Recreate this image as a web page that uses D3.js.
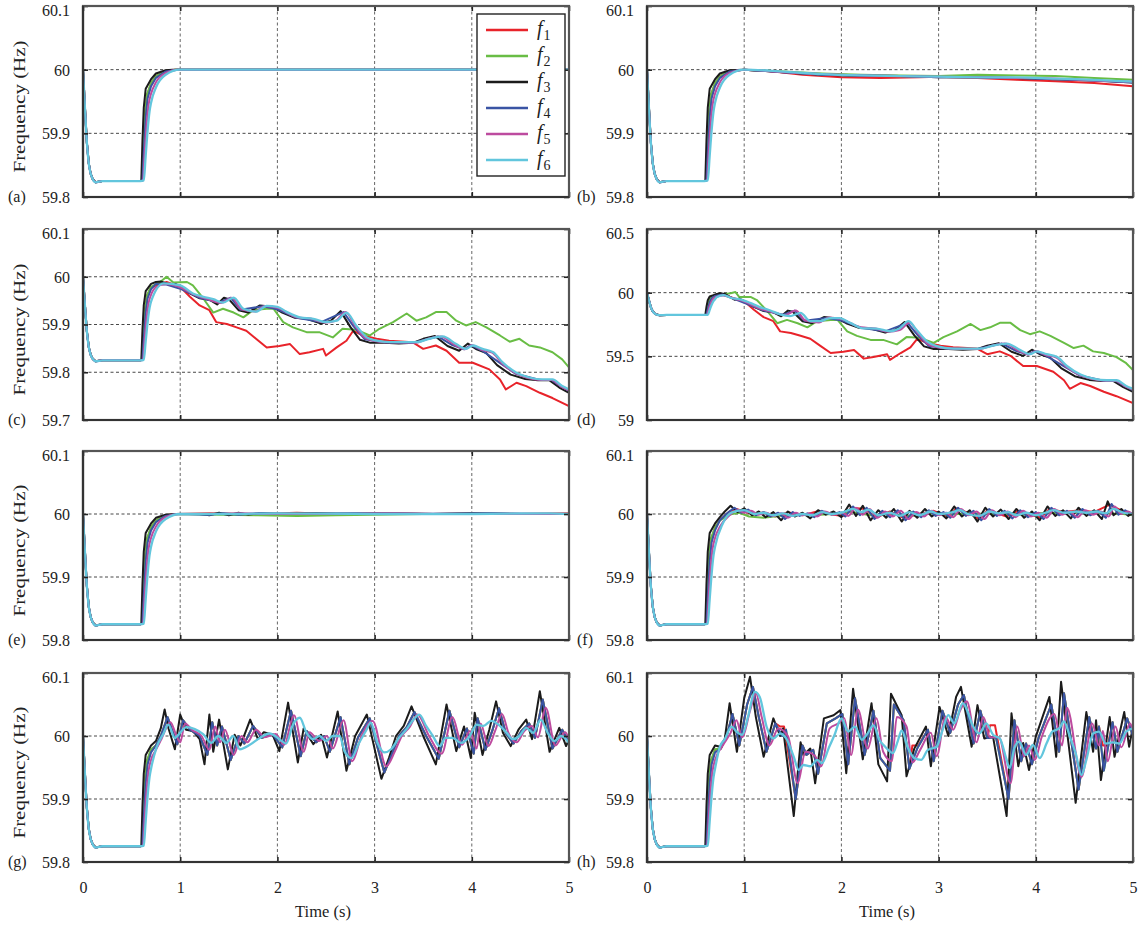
<!DOCTYPE html>
<html>
<head>
<meta charset="utf-8">
<script src="https://cdn.jsdelivr.net/npm/d3@7/dist/d3.min.js"></script>
<style>
body { margin: 0; background: #fff; }
</style>
</head>
<body>
<svg id="chart" width="1143" height="926"></svg>
<script>
// ---- data ----
const seriesIds = ["1", "2", "3", "4", "5", "6"];
const panelIds = ["a", "b", "c", "d", "e", "f", "g", "h"];
const xTicks = [0, 1, 2, 3, 4, 5];
const yTicksStd = [59.8, 59.9, 60, 60.1];
const yTicksC = [59.7, 59.8, 59.9, 60, 60.1];
const yTicksD = [59, 59.5, 60, 60.5];

// common initial dip, same in every panel
const dipPart = [[0,60],[0.02,59.94],[0.04,59.885],[0.06,59.852],[0.08,59.836],[0.1,59.828],[0.13,59.823],[0.2,59.825],[0.4,59.825],[0.59,59.825]];
// steep recovery around t = 0.6 s
const rise_f1 = [[0.61,59.826],[0.625,59.88],[0.64,59.93],[0.66,59.96],[0.7,59.978]];
const rise_f2 = [[0.61,59.826],[0.625,59.885],[0.64,59.935],[0.66,59.962],[0.7,59.979]];
const rise_f3 = [[0.6,59.826],[0.612,59.89],[0.625,59.94],[0.645,59.97],[0.7,59.985]];
const rise_f4 = [[0.612,59.826],[0.627,59.875],[0.645,59.925],[0.665,59.955],[0.7,59.974]];
const rise_f5 = [[0.618,59.826],[0.635,59.87],[0.655,59.915],[0.675,59.945],[0.7,59.962]];
const rise_f6 = [[0.625,59.826],[0.645,59.865],[0.665,59.905],[0.685,59.935],[0.7,59.948]];

// (a)
const a_f1 = [[0.75,59.99],[0.85,59.998],[0.95,60.0],[5,60.0]];
const a_f2 = [[0.75,59.99],[0.85,59.998],[0.95,60.0],[5,60.0]];
const a_f3 = [[0.75,59.994],[0.85,59.999],[0.92,60.0],[5,60.0]];
const a_f4 = [[0.75,59.987],[0.85,59.997],[0.97,60.0],[5,60.0]];
const a_f5 = [[0.75,59.98],[0.85,59.995],[0.98,60.0],[5,60.0]];
const a_f6 = [[0.75,59.972],[0.85,59.992],[1.0,60.0],[5,60.0]];

// (b)
const b_f1 = [[0.75,59.99],[0.85,59.998],[1.0,60.0],[1.3,59.997],[1.6,59.992],[2.0,59.988],[2.4,59.987],[2.8,59.988],[3.0,59.989],[3.4,59.987],[3.8,59.984],[4.2,59.982],[4.6,59.979],[5.0,59.974]];
const b_f2 = [[0.75,59.99],[0.85,59.998],[1.0,60.0],[1.4,59.997],[1.8,59.994],[2.2,59.992],[2.6,59.991],[3.0,59.99],[3.4,59.992],[3.8,59.991],[4.2,59.99],[4.6,59.987],[5.0,59.984]];
const b_f3 = [[0.75,59.994],[0.85,59.999],[1.0,60.0],[1.4,59.996],[1.8,59.992],[2.2,59.99],[2.6,59.99],[3.0,59.988],[3.4,59.988],[3.8,59.987],[4.2,59.985],[4.6,59.983],[5.0,59.98]];
const b_f4 = [[0.75,59.987],[0.85,59.997],[1.0,60.0],[1.4,59.996],[1.8,59.992],[2.2,59.991],[2.6,59.99],[3.0,59.988],[3.4,59.988],[3.8,59.987],[4.2,59.985],[4.6,59.983],[5.0,59.98]];
const b_f5 = [[0.75,59.98],[0.85,59.995],[1.0,60.0],[1.4,59.996],[1.8,59.993],[2.2,59.991],[2.6,59.99],[3.0,59.989],[3.4,59.988],[3.8,59.987],[4.2,59.986],[4.6,59.983],[5.0,59.981]];
const b_f6 = [[0.75,59.972],[0.85,59.992],[1.0,60.0],[1.4,59.997],[1.8,59.993],[2.2,59.991],[2.6,59.99],[3.0,59.989],[3.4,59.988],[3.8,59.988],[4.2,59.986],[4.6,59.984],[5.0,59.981]];

// (c)
const c_f1 = [[0.86,59.989],[1.0,59.979],[1.1,59.958],[1.2,59.94],[1.3,59.93],[1.37,59.905],[1.48,59.901],[1.58,59.894],[1.68,59.887],[1.78,59.87],[1.89,59.852],[2.02,59.855],[2.13,59.859],[2.23,59.838],[2.33,59.842],[2.47,59.849],[2.5,59.835],[2.61,59.852],[2.71,59.866],[2.78,59.887],[2.88,59.877],[3.02,59.87],[3.15,59.866],[3.39,59.863],[3.5,59.849],[3.63,59.856],[3.74,59.845],[3.87,59.82],[4.01,59.82],[4.18,59.806],[4.29,59.785],[4.35,59.764],[4.46,59.778],[4.56,59.771],[4.7,59.757],[4.83,59.746],[5.0,59.729]];
const c_f2 = [[0.8,59.99],[0.86,60.0],[0.93,59.988],[1.07,59.989],[1.13,59.982],[1.24,59.954],[1.34,59.925],[1.44,59.933],[1.55,59.925],[1.65,59.915],[1.75,59.93],[1.89,59.933],[1.96,59.933],[2.06,59.905],[2.16,59.894],[2.3,59.884],[2.43,59.884],[2.57,59.873],[2.67,59.891],[2.81,59.889],[2.95,59.877],[3.05,59.891],[3.19,59.905],[3.33,59.923],[3.43,59.908],[3.53,59.915],[3.63,59.926],[3.74,59.926],[3.84,59.908],[3.94,59.898],[4.04,59.905],[4.15,59.894],[4.29,59.877],[4.39,59.864],[4.49,59.87],[4.59,59.856],[4.7,59.852],[4.83,59.842],[4.93,59.827],[5.0,59.81]];
const c_f3 = [[0.75,59.989],[0.8,59.99],[0.9,59.983],[0.95,59.985],[1.0,59.98],[1.1,59.965],[1.2,59.955],[1.3,59.952],[1.38,59.942],[1.45,59.956],[1.5,59.953],[1.6,59.93],[1.7,59.925],[1.82,59.94],[1.95,59.937],[2.05,59.925],[2.18,59.914],[2.3,59.912],[2.45,59.902],[2.55,59.908],[2.65,59.928],[2.75,59.895],[2.85,59.868],[2.95,59.862],[3.1,59.862],[3.25,59.86],[3.4,59.862],[3.5,59.87],[3.62,59.876],[3.75,59.855],[3.87,59.845],[3.96,59.86],[4.05,59.848],[4.15,59.84],[4.26,59.815],[4.4,59.795],[4.55,59.786],[4.68,59.783],[4.8,59.783],[4.9,59.768],[5.0,59.757]];
const c_f4 = [[0.75,59.985],[0.85,59.984],[1.0,59.975],[1.2,59.956],[1.4,59.946],[1.52,59.956],[1.62,59.931],[1.85,59.938],[2.0,59.932],[2.2,59.914],[2.45,59.905],[2.68,59.926],[2.78,59.897],[2.9,59.869],[3.1,59.863],[3.4,59.862],[3.65,59.875],[3.8,59.857],[3.92,59.848],[3.99,59.857],[4.1,59.846],[4.3,59.818],[4.45,59.797],[4.7,59.784],[4.82,59.784],[4.92,59.77],[5.0,59.761]];
const c_f5 = [[0.75,59.978],[0.85,59.985],[1.0,59.978],[1.15,59.962],[1.3,59.952],[1.42,59.945],[1.53,59.956],[1.63,59.932],[1.77,59.927],[1.87,59.939],[2.0,59.935],[2.2,59.915],[2.35,59.912],[2.48,59.904],[2.6,59.908],[2.7,59.926],[2.8,59.897],[2.91,59.871],[3.1,59.863],[3.42,59.862],[3.55,59.87],[3.68,59.875],[3.82,59.858],[3.93,59.848],[4.0,59.857],[4.1,59.847],[4.21,59.841],[4.31,59.819],[4.45,59.798],[4.58,59.788],[4.72,59.784],[4.82,59.784],[4.92,59.77],[5.0,59.762]];
const c_f6 = [[0.83,59.986],[1.0,59.982],[1.13,59.965],[1.24,59.958],[1.34,59.953],[1.44,59.946],[1.55,59.956],[1.65,59.933],[1.78,59.927],[1.89,59.939],[2.0,59.937],[2.09,59.927],[2.23,59.915],[2.37,59.912],[2.5,59.905],[2.61,59.908],[2.71,59.925],[2.81,59.898],[2.92,59.873],[3.02,59.866],[3.15,59.863],[3.29,59.863],[3.43,59.863],[3.56,59.87],[3.7,59.875],[3.84,59.859],[3.94,59.849],[4.01,59.856],[4.11,59.849],[4.22,59.842],[4.32,59.82],[4.46,59.799],[4.59,59.789],[4.73,59.785],[4.83,59.785],[4.93,59.771],[5.0,59.764]];

// (d)
const d_f1 = [[0.8,59.985],[0.86,59.965],[1.0,59.933],[1.1,59.866],[1.2,59.808],[1.3,59.776],[1.37,59.696],[1.48,59.683],[1.58,59.661],[1.68,59.638],[1.78,59.584],[1.89,59.526],[2.02,59.536],[2.13,59.549],[2.23,59.482],[2.33,59.494],[2.47,59.517],[2.5,59.472],[2.61,59.526],[2.71,59.571],[2.78,59.638],[2.88,59.606],[3.02,59.584],[3.15,59.571],[3.39,59.562],[3.5,59.517],[3.63,59.539],[3.74,59.504],[3.87,59.424],[4.01,59.424],[4.18,59.379],[4.29,59.312],[4.35,59.245],[4.46,59.29],[4.56,59.267],[4.7,59.222],[4.83,59.187],[5.0,59.133]];
const d_f2 = [[0.75,59.99],[0.8,59.99],[0.86,59.995],[0.91,60.005],[0.95,59.965],[1.07,59.965],[1.13,59.942],[1.24,59.853],[1.34,59.76],[1.44,59.786],[1.55,59.76],[1.65,59.728],[1.75,59.776],[1.89,59.786],[1.96,59.786],[2.06,59.696],[2.16,59.661],[2.3,59.629],[2.43,59.629],[2.57,59.594],[2.67,59.651],[2.81,59.645],[2.95,59.606],[3.05,59.651],[3.19,59.696],[3.33,59.754],[3.43,59.706],[3.53,59.728],[3.63,59.763],[3.74,59.763],[3.84,59.706],[3.94,59.674],[4.04,59.696],[4.15,59.661],[4.29,59.606],[4.39,59.565],[4.49,59.584],[4.59,59.539],[4.7,59.526],[4.83,59.494],[4.93,59.446],[5.0,59.392]];
const d_f3 = [[0.75,59.995],[0.8,59.99],[0.9,59.945],[0.95,59.952],[1.0,59.936],[1.1,59.888],[1.2,59.856],[1.3,59.846],[1.38,59.814],[1.45,59.859],[1.5,59.85],[1.6,59.776],[1.7,59.76],[1.82,59.808],[1.95,59.798],[2.05,59.76],[2.18,59.725],[2.3,59.718],[2.45,59.686],[2.55,59.706],[2.65,59.77],[2.75,59.664],[2.85,59.578],[2.95,59.558],[3.1,59.558],[3.25,59.552],[3.4,59.558],[3.5,59.584],[3.62,59.603],[3.75,59.536],[3.87,59.504],[3.96,59.552],[4.05,59.514],[4.15,59.488],[4.26,59.408],[4.4,59.344],[4.55,59.315],[4.68,59.306],[4.8,59.306],[4.9,59.258],[5.0,59.222]];
const d_f4 = [[0.78,59.985],[0.9,59.95],[1.0,59.92],[1.2,59.859],[1.4,59.827],[1.52,59.859],[1.62,59.779],[1.85,59.802],[2.0,59.782],[2.2,59.725],[2.45,59.696],[2.68,59.763],[2.78,59.67],[2.9,59.581],[3.1,59.562],[3.4,59.558],[3.65,59.6],[3.8,59.542],[3.92,59.514],[3.99,59.542],[4.1,59.507],[4.3,59.418],[4.45,59.35],[4.7,59.309],[4.82,59.309],[4.92,59.264],[5.0,59.235]];
const d_f5 = [[0.78,59.978],[0.9,59.952],[1.0,59.93],[1.15,59.878],[1.3,59.846],[1.42,59.824],[1.53,59.859],[1.63,59.782],[1.77,59.766],[1.87,59.805],[2.0,59.792],[2.2,59.728],[2.35,59.718],[2.48,59.693],[2.6,59.706],[2.7,59.763],[2.8,59.67],[2.91,59.587],[3.1,59.562],[3.42,59.558],[3.55,59.584],[3.68,59.6],[3.82,59.546],[3.93,59.514],[4.0,59.542],[4.1,59.51],[4.21,59.491],[4.31,59.421],[4.45,59.354],[4.58,59.322],[4.72,59.309],[4.82,59.309],[4.92,59.264],[5.0,59.238]];
const d_f6 = [[0.72,59.966],[0.79,59.98],[0.86,59.96],[0.96,59.947],[1.06,59.92],[1.16,59.887],[1.27,59.86],[1.37,59.83],[1.47,59.816],[1.58,59.842],[1.68,59.776],[1.78,59.776],[1.88,59.8],[1.98,59.8],[2.09,59.763],[2.22,59.72],[2.36,59.718],[2.5,59.697],[2.6,59.72],[2.69,59.776],[2.77,59.71],[2.88,59.618],[2.98,59.58],[3.15,59.56],[3.29,59.56],[3.43,59.56],[3.56,59.584],[3.7,59.6],[3.84,59.549],[3.94,59.517],[4.01,59.539],[4.11,59.517],[4.22,59.494],[4.32,59.424],[4.46,59.357],[4.59,59.325],[4.73,59.312],[4.83,59.312],[4.93,59.267],[5.0,59.245]];

// (e)
const e_f1 = [[0.75,59.99],[0.85,59.998],[0.95,60.0],[1.3,60.001],[1.8,60.0],[2.2,60.002],[2.6,60.0],[3.0,60.001],[3.6,60.0],[4.0,60.001],[4.5,60.0],[5.0,60.001]];
const e_f2 = [[0.75,59.99],[0.85,59.998],[0.95,60.0],[1.4,59.999],[1.8,59.998],[2.2,59.997],[2.6,59.998],[3.0,59.999],[3.5,60.0],[4.0,60.0],[5.0,60.0]];
const e_f3 = [[0.75,59.994],[0.85,59.999],[0.95,60.0],[1.2,60.0],[1.3,59.998],[1.4,60.002],[1.5,59.998],[1.6,60.002],[1.7,59.999],[1.8,60.001],[2.0,60.0],[2.4,60.001],[2.8,60.0],[3.2,60.001],[3.6,60.0],[4.0,60.001],[4.4,60.0],[5.0,60.0]];
const e_f4 = [[0.75,59.987],[0.85,59.997],[0.97,60.0],[1.3,59.999],[1.45,60.001],[1.6,59.999],[1.8,60.001],[2.2,60.0],[2.8,60.001],[3.5,60.0],[4.2,60.001],[5.0,60.0]];
const e_f5 = [[0.75,59.98],[0.85,59.995],[0.98,60.0],[1.4,60.0],[1.6,60.001],[2.0,60.0],[2.6,60.0],[3.2,60.001],[4.0,60.0],[5.0,60.0]];
const e_f6 = [[0.75,59.972],[0.85,59.992],[1.0,60.0],[1.5,60.0],[2.0,60.001],[3.0,60.0],[4.0,60.0],[4.8,60.001],[5.0,60.0]];

// (f)
const f_f1 = [[0.75,59.99],[0.85,60.004],[0.92,60.008],[1.0,60.004],[1.1,59.999],[1.2,60.003],[1.32,59.996],[1.45,60.003],[1.6,59.998],[1.75,60.004],[1.9,59.999],[2.02,59.997],[2.1,60.01],[2.25,60.008],[2.35,59.994],[2.5,60.004],[2.64,59.994],[2.8,60.0],[2.95,60.005],[3.1,59.996],[3.18,60.009],[3.3,60.002],[3.42,59.992],[3.5,60.006],[3.7,59.996],[3.82,60.005],[4.05,59.994],[4.14,60.008],[4.3,60.003],[4.45,60.006],[4.6,60.003],[4.76,60.015],[4.9,60.004],[5.0,60.0]];
const f_f2 = [[0.75,59.99],[0.85,59.999],[0.95,60.002],[1.05,59.996],[1.2,59.994],[1.35,59.997],[1.5,59.999],[1.7,59.998],[1.9,60.0],[2.1,60.003],[2.3,59.998],[2.5,60.0],[2.7,59.997],[2.9,60.001],[3.1,59.999],[3.3,60.001],[3.5,60.0],[3.7,60.0],[3.9,59.999],[4.1,60.002],[4.3,60.001],[4.5,60.003],[4.7,60.001],[4.9,60.0],[5.0,59.998]];
const f_f3 = [[0.75,59.995],[0.8,60.004],[0.86,60.013],[0.93,60.003],[1.0,60.009],[1.08,59.998],[1.15,60.004],[1.22,59.995],[1.3,60.003],[1.38,59.99],[1.45,60.004],[1.52,59.996],[1.6,60.002],[1.68,59.993],[1.76,60.006],[1.84,59.999],[1.92,60.004],[2.0,59.995],[2.08,60.015],[2.15,59.997],[2.22,60.013],[2.3,59.99],[2.38,60.006],[2.46,59.994],[2.54,60.008],[2.62,59.988],[2.7,60.005],[2.78,59.994],[2.86,60.008],[2.93,59.996],[3.0,60.004],[3.08,59.993],[3.16,60.012],[3.24,59.996],[3.32,60.006],[3.4,59.988],[3.48,60.01],[3.56,59.996],[3.64,60.007],[3.72,59.992],[3.8,60.008],[3.88,59.994],[3.96,60.004],[4.04,59.99],[4.12,60.012],[4.2,59.997],[4.28,60.006],[4.36,59.993],[4.44,60.01],[4.52,59.997],[4.6,60.006],[4.68,59.992],[4.74,60.02],[4.8,59.998],[4.88,60.008],[4.95,59.997],[5.0,60.002]];
const f_f4 = [[0.75,59.99],[0.83,60.002],[0.9,60.01],[0.97,60.002],[1.04,60.007],[1.12,59.998],[1.2,60.003],[1.27,59.996],[1.35,60.002],[1.42,59.992],[1.5,60.003],[1.57,59.997],[1.65,60.001],[1.72,59.995],[1.8,60.005],[1.9,59.999],[1.98,60.003],[2.04,59.996],[2.12,60.012],[2.19,59.998],[2.26,60.01],[2.34,59.992],[2.42,60.005],[2.5,59.995],[2.58,60.006],[2.66,59.99],[2.74,60.004],[2.82,59.995],[2.9,60.006],[2.97,59.997],[3.05,60.003],[3.12,59.994],[3.2,60.01],[3.28,59.997],[3.36,60.005],[3.44,59.99],[3.52,60.008],[3.6,59.997],[3.68,60.005],[3.76,59.993],[3.84,60.006],[3.92,59.995],[4.0,60.003],[4.08,59.992],[4.16,60.01],[4.24,59.998],[4.32,60.005],[4.4,59.994],[4.48,60.008],[4.56,59.998],[4.64,60.005],[4.72,59.994],[4.78,60.016],[4.85,59.999],[4.92,60.006],[5.0,59.998]];
const f_f5 = [[0.75,59.98],[0.85,59.998],[0.93,60.006],[1.0,60.002],[1.07,60.005],[1.15,59.999],[1.23,60.002],[1.3,59.997],[1.38,60.001],[1.45,59.994],[1.53,60.002],[1.6,59.998],[1.68,60.001],[1.75,59.996],[1.83,60.004],[1.93,59.999],[2.01,60.002],[2.07,59.997],[2.15,60.01],[2.22,59.999],[2.29,60.008],[2.37,59.994],[2.45,60.004],[2.53,59.996],[2.61,60.005],[2.69,59.992],[2.77,60.003],[2.85,59.996],[2.93,60.005],[3.0,59.998],[3.08,60.002],[3.15,59.995],[3.23,60.008],[3.31,59.998],[3.39,60.004],[3.47,59.992],[3.55,60.006],[3.63,59.998],[3.71,60.004],[3.79,59.995],[3.87,60.005],[3.95,59.996],[4.03,60.002],[4.11,59.994],[4.19,60.008],[4.27,59.999],[4.35,60.004],[4.43,59.995],[4.51,60.006],[4.59,59.999],[4.67,60.004],[4.75,59.996],[4.81,60.012],[4.88,60.0],[4.95,60.004],[5.0,59.999]];
const f_f6 = [[0.78,59.985],[0.88,60.003],[1.0,60.006],[1.1,60.0],[1.2,60.002],[1.3,59.998],[1.4,60.001],[1.5,59.997],[1.6,60.0],[1.7,59.998],[1.8,60.003],[1.9,60.0],[2.0,60.002],[2.12,60.008],[2.2,60.003],[2.28,60.007],[2.38,59.998],[2.5,60.002],[2.6,59.997],[2.7,60.003],[2.8,59.998],[2.92,60.004],[3.0,60.0],[3.12,60.002],[3.22,60.006],[3.3,60.0],[3.42,59.997],[3.52,60.004],[3.62,60.001],[3.72,60.003],[3.8,59.998],[3.9,60.002],[4.0,59.998],[4.1,60.002],[4.18,60.006],[4.3,60.002],[4.42,60.004],[4.52,60.002],[4.62,60.004],[4.72,60.001],[4.8,60.008],[4.9,60.002],[5.0,60.0]];

// (g)
const g_f3 = [[0.75,59.992],[0.8,60.012],[0.84,60.042],[0.88,60.012],[0.945,59.979],[1.0,60.034],[1.06,60.01],[1.13,60.008],[1.2,59.995],[1.25,59.955],[1.3,60.034],[1.34,59.975],[1.4,60.026],[1.49,59.947],[1.56,60.002],[1.62,59.985],[1.72,60.026],[1.8,59.995],[1.86,60.006],[1.95,60.002],[2.02,59.976],[2.11,60.053],[2.21,59.958],[2.27,60.012],[2.37,59.987],[2.45,60.002],[2.51,59.966],[2.62,60.039],[2.71,59.945],[2.8,60.0],[2.92,60.034],[3.07,59.932],[3.15,59.966],[3.22,60.0],[3.3,60.016],[3.38,60.047],[3.5,60.0],[3.63,59.955],[3.74,60.05],[3.84,59.976],[3.92,60.015],[3.99,59.965],[4.03,60.037],[4.11,59.97],[4.18,60.01],[4.25,60.055],[4.32,60.005],[4.4,59.984],[4.48,60.01],[4.56,60.026],[4.62,59.995],[4.7,60.071],[4.8,59.975],[4.9,60.013],[4.97,59.984],[5.0,59.995]];
const g_f4 = [[0.75,59.985],[0.8,60.0],[0.87,60.03],[0.92,60.008],[0.97,59.987],[1.03,60.025],[1.1,60.01],[1.2,60.0],[1.28,59.97],[1.33,60.022],[1.38,59.985],[1.43,60.015],[1.52,59.962],[1.6,60.0],[1.66,59.988],[1.75,60.016],[1.84,59.997],[1.95,60.003],[2.05,59.982],[2.14,60.04],[2.24,59.968],[2.3,60.008],[2.4,59.99],[2.48,60.0],[2.54,59.975],[2.65,60.03],[2.74,59.955],[2.83,59.998],[2.95,60.028],[3.1,59.942],[3.18,59.972],[3.25,60.0],[3.33,60.014],[3.41,60.038],[3.53,60.0],[3.66,59.964],[3.77,60.04],[3.87,59.982],[3.95,60.012],[4.02,59.972],[4.06,60.028],[4.14,59.978],[4.21,60.008],[4.28,60.044],[4.35,60.004],[4.43,59.988],[4.51,60.008],[4.59,60.02],[4.65,59.997],[4.73,60.058],[4.83,59.98],[4.93,60.01],[5.0,59.99]];
// f1 and f2 lie under f4 over the whole window in (g)
const g_f1 = g_f4;
const g_f2 = g_f4;
const g_f5 = [[0.75,59.978],[0.8,59.993],[0.9,60.022],[0.95,60.005],[1.0,59.99],[1.05,60.02],[1.12,60.01],[1.22,60.0],[1.3,59.978],[1.36,60.015],[1.41,59.99],[1.46,60.01],[1.55,59.97],[1.63,60.0],[1.69,59.99],[1.78,60.01],[1.87,59.998],[1.98,60.003],[2.07,59.986],[2.17,60.033],[2.27,59.975],[2.33,60.006],[2.43,59.992],[2.51,60.0],[2.57,59.98],[2.68,60.025],[2.77,59.96],[2.86,59.998],[2.98,60.024],[3.12,59.952],[3.21,59.976],[3.28,60.0],[3.36,60.014],[3.44,60.034],[3.56,60.0],[3.69,59.972],[3.8,60.03],[3.9,59.986],[3.98,60.008],[4.05,59.98],[4.09,60.02],[4.17,59.984],[4.24,60.008],[4.31,60.035],[4.38,60.004],[4.46,59.99],[4.54,60.008],[4.62,60.016],[4.68,59.998],[4.76,60.045],[4.86,59.985],[4.96,60.006],[5.0,59.995]];
const g_f6 = [[0.757,59.982],[0.825,60.003],[0.877,60.018],[0.945,59.997],[0.997,60.005],[1.065,60.014],[1.15,60.011],[1.236,60.003],[1.32,59.989],[1.39,60.0],[1.476,59.989],[1.545,60.0],[1.613,59.979],[1.716,59.986],[1.818,59.997],[1.92,60.004],[2.02,59.995],[2.09,59.988],[2.16,60.018],[2.23,60.029],[2.3,60.005],[2.366,59.995],[2.434,60.0],[2.5,59.992],[2.57,60.0],[2.64,60.0],[2.69,59.976],[2.76,59.965],[2.84,59.989],[2.91,60.008],[2.96,60.021],[3.03,59.989],[3.1,59.974],[3.17,59.979],[3.25,59.997],[3.34,60.013],[3.39,60.024],[3.46,60.034],[3.53,60.016],[3.6,60.0],[3.67,59.984],[3.73,59.997],[3.8,59.997],[3.89,59.989],[3.98,60.0],[4.05,60.018],[4.12,60.016],[4.2,60.024],[4.29,60.016],[4.36,60.005],[4.42,59.995],[4.49,60.0],[4.56,60.013],[4.63,60.005],[4.71,60.026],[4.78,60.005],[4.85,59.992],[4.92,60.0],[5.0,59.989]];

// (h)
const h_f1 = [[0.76,59.98],[0.82,60.0],[0.88,60.035],[0.95,59.985],[1.03,60.05],[1.09,60.078],[1.15,60.03],[1.23,59.975],[1.32,60.02],[1.37,60.015],[1.41,60.015],[1.53,59.9],[1.6,59.985],[1.64,59.97],[1.71,59.978],[1.76,59.94],[1.85,60.02],[1.94,60.028],[2.01,60.035],[2.07,59.955],[2.14,60.06],[2.24,59.97],[2.33,60.04],[2.4,59.965],[2.5,59.945],[2.54,60.05],[2.64,60.025],[2.7,59.948],[2.73,59.985],[2.79,59.985],[2.89,60.01],[2.95,59.96],[3.04,60.04],[3.12,60.005],[3.2,60.05],[3.26,60.065],[3.36,59.988],[3.43,60.04],[3.5,59.997],[3.53,60.017],[3.58,60.017],[3.72,59.9],[3.78,60.025],[3.85,59.96],[3.9,59.988],[3.96,59.955],[4.03,59.998],[4.16,60.05],[4.24,59.975],[4.29,60.068],[4.44,59.915],[4.55,60.03],[4.62,59.98],[4.65,60.015],[4.69,59.985],[4.74,59.985],[4.79,60.022],[4.84,59.975],[4.94,60.028],[5.0,60.0]];
const h_f3 = [[0.75,59.983],[0.8,59.995],[0.85,60.052],[0.925,59.975],[1.0,60.06],[1.06,60.094],[1.12,60.03],[1.2,59.967],[1.3,60.028],[1.37,60.0],[1.4,60.012],[1.51,59.873],[1.58,59.99],[1.61,59.97],[1.68,59.98],[1.73,59.925],[1.82,60.028],[1.92,60.033],[1.99,60.041],[2.05,59.941],[2.12,60.075],[2.22,59.963],[2.31,60.052],[2.38,59.955],[2.47,59.928],[2.51,60.067],[2.62,60.033],[2.67,59.936],[2.75,59.98],[2.87,60.015],[2.92,59.952],[3.01,60.046],[3.1,60.0],[3.18,60.062],[3.23,60.078],[3.34,59.983],[3.4,60.049],[3.47,59.996],[3.56,59.999],[3.7,59.873],[3.75,60.036],[3.82,59.952],[3.87,59.989],[3.93,59.946],[4.0,59.999],[4.14,60.062],[4.21,59.967],[4.26,60.086],[4.41,59.894],[4.52,60.038],[4.59,59.975],[4.62,60.025],[4.67,59.93],[4.76,60.03],[4.81,59.967],[4.91,60.038],[4.96,59.983],[5.0,60.015]];
const h_f4 = [[0.76,59.98],[0.82,60.0],[0.88,60.035],[0.95,59.985],[1.03,60.05],[1.09,60.078],[1.15,60.03],[1.23,59.975],[1.32,60.02],[1.39,60.0],[1.43,60.01],[1.53,59.9],[1.6,59.985],[1.64,59.97],[1.71,59.978],[1.76,59.94],[1.85,60.02],[1.94,60.028],[2.01,60.035],[2.07,59.955],[2.14,60.06],[2.24,59.97],[2.33,60.04],[2.4,59.965],[2.5,59.945],[2.54,60.05],[2.64,60.025],[2.7,59.948],[2.78,59.98],[2.89,60.01],[2.95,59.96],[3.04,60.04],[3.12,60.005],[3.2,60.05],[3.26,60.065],[3.36,59.988],[3.43,60.04],[3.5,59.997],[3.59,59.998],[3.72,59.9],[3.78,60.025],[3.85,59.96],[3.9,59.988],[3.96,59.955],[4.03,59.998],[4.16,60.05],[4.24,59.975],[4.29,60.068],[4.44,59.915],[4.55,60.03],[4.62,59.98],[4.65,60.015],[4.7,59.945],[4.79,60.022],[4.84,59.975],[4.94,60.028],[5.0,60.0]];
// f2 lies under f4 in (h)
const h_f2 = h_f4;
const h_f5 = [[0.78,59.985],[0.86,60.005],[0.92,60.025],[0.98,59.998],[1.06,60.04],[1.12,60.068],[1.18,60.03],[1.26,59.985],[1.35,60.012],[1.45,60.0],[1.55,59.925],[1.63,59.975],[1.73,59.968],[1.79,59.952],[1.88,60.012],[1.97,60.02],[2.03,60.028],[2.1,59.97],[2.17,60.042],[2.27,59.98],[2.36,60.028],[2.43,59.975],[2.52,59.96],[2.57,60.03],[2.67,60.015],[2.73,59.958],[2.81,59.978],[2.92,60.005],[2.98,59.968],[3.07,60.03],[3.15,60.01],[3.22,60.04],[3.29,60.055],[3.39,59.99],[3.46,60.03],[3.53,59.998],[3.62,59.998],[3.74,59.925],[3.81,60.015],[3.88,59.968],[3.93,59.985],[3.99,59.962],[4.06,59.998],[4.19,60.035],[4.27,59.985],[4.32,60.045],[4.47,59.935],[4.58,60.02],[4.65,59.985],[4.69,60.008],[4.74,59.96],[4.82,60.015],[4.88,59.982],[4.97,60.02],[5.0,60.008]];
const h_f6 = [[0.75,59.983],[0.8,59.995],[0.87,60.015],[0.92,60.007],[0.98,60.002],[1.04,60.031],[1.11,60.07],[1.16,60.062],[1.23,60.015],[1.3,59.996],[1.37,60.004],[1.44,59.994],[1.51,59.967],[1.56,59.946],[1.61,59.954],[1.68,59.952],[1.75,59.962],[1.8,59.957],[1.87,59.981],[1.93,60.002],[2.0,60.028],[2.07,60.007],[2.14,60.015],[2.21,59.994],[2.26,60.002],[2.33,60.017],[2.39,59.994],[2.45,59.983],[2.53,59.973],[2.58,59.992],[2.62,60.009],[2.68,59.983],[2.75,59.965],[2.82,59.962],[2.89,59.978],[2.98,59.983],[3.04,60.009],[3.1,60.033],[3.16,60.02],[3.25,60.052],[3.3,60.038],[3.35,60.017],[3.42,60.004],[3.49,60.02],[3.56,60.002],[3.63,59.996],[3.7,59.962],[3.73,59.949],[3.78,59.981],[3.83,59.991],[3.9,59.97],[3.97,59.986],[4.04,59.965],[4.11,59.988],[4.17,60.007],[4.24,60.012],[4.29,60.023],[4.35,59.999],[4.41,59.973],[4.47,59.938],[4.52,59.962],[4.59,60.004],[4.65,60.007],[4.72,59.988],[4.79,59.99],[4.86,59.988],[4.93,60.007],[5.0,60.012]];

// ---- layout / style ----
const lineColors = ["#e8232a", "#69bd45", "#1b1b1b", "#3a54a4", "#bd4b9f", "#62c6dd"];
const serif = "'Liberation Serif', 'DejaVu Serif', 'Tinos', 'Noto Serif', 'FreeSerif', 'Times New Roman', serif";
const colX = [83, 647];
const plotW = 486;
const rowY = [6, 229, 451, 673];
const rowH = [191, 191, 189, 189];

const rises = [rise_f1, rise_f2, rise_f3, rise_f4, rise_f5, rise_f6];
const panels = [
    { tails: [a_f1, a_f2, a_f3, a_f4, a_f5, a_f6], dom: [59.8, 60.1], ticks: yTicksStd },
    { tails: [b_f1, b_f2, b_f3, b_f4, b_f5, b_f6], dom: [59.8, 60.1], ticks: yTicksStd },
    { tails: [c_f1, c_f2, c_f3, c_f4, c_f5, c_f6], dom: [59.7, 60.1], ticks: yTicksC },
    { tails: [d_f1, d_f2, d_f3, d_f4, d_f5, d_f6], dom: [59, 60.5], ticks: yTicksD },
    { tails: [e_f1, e_f2, e_f3, e_f4, e_f5, e_f6], dom: [59.8, 60.1], ticks: yTicksStd },
    { tails: [f_f1, f_f2, f_f3, f_f4, f_f5, f_f6], dom: [59.8, 60.1], ticks: yTicksStd },
    { tails: [g_f1, g_f2, g_f3, g_f4, g_f5, g_f6], dom: [59.8, 60.1], ticks: yTicksStd },
    { tails: [h_f1, h_f2, h_f3, h_f4, h_f5, h_f6], dom: [59.8, 60.1], ticks: yTicksStd }
];

const svg = d3.select("#chart");
const fmt = d => d3.format(".1f")(d).replace(/\.0$/, "");

panels.forEach((p, i) => {
    const col = i % 2, row = Math.floor(i / 2);
    const x0 = colX[col], y0 = rowY[row], h = rowH[row];
    const x = d3.scaleLinear().domain([0, 5]).range([x0, x0 + plotW]);
    const y = d3.scaleLinear().domain(p.dom).range([y0 + h, y0]);
    const g = svg.append("g");

    // dashed grid on the inner ticks
    g.selectAll("line.vg").data(xTicks.slice(1, -1)).enter().append("line")
        .attr("x1", d => x(d)).attr("x2", d => x(d))
        .attr("y1", y0).attr("y2", y0 + h)
        .attr("stroke", "#555").attr("stroke-width", 0.9).attr("stroke-dasharray", "3,2.5");
    g.selectAll("line.hg").data(p.ticks.slice(1, -1)).enter().append("line")
        .attr("x1", x0).attr("x2", x0 + plotW)
        .attr("y1", d => y(d)).attr("y2", d => y(d))
        .attr("stroke", "#333").attr("stroke-width", 0.9).attr("stroke-dasharray", "3,2.5");

    // series: sharp lines for f1..f4, smooth for f5, f6
    const clipId = "clip" + i;
    g.append("clipPath").attr("id", clipId).append("rect")
        .attr("x", x0).attr("y", y0 - 1).attr("width", plotW).attr("height", h + 2);
    const sharp = d3.line().x(d => x(d[0])).y(d => y(d[1]));
    const smooth = d3.line().x(d => x(d[0])).y(d => y(d[1])).curve(d3.curveMonotoneX);
    const lg = g.append("g").attr("clip-path", `url(#${clipId})`);
    p.tails.forEach((tail, s) => {
        const pts = dipPart.concat(rises[s], tail);
        lg.append("path").datum(pts)
            .attr("d", s >= 4 ? smooth : sharp)
            .attr("fill", "none")
            .attr("stroke", lineColors[s])
            .attr("stroke-width", s === 5 ? 2.3 : 2)
            .attr("stroke-linejoin", "round");
    });

    // axes with inward ticks
    const yl = g.append("g").attr("transform", `translate(${x0},0)`)
        .call(d3.axisLeft(y).tickValues(p.ticks).tickSizeInner(-5).tickSizeOuter(0).tickPadding(13).tickFormat(fmt));
    yl.selectAll("text").style("font-size", "16px")
        .attr("dy", d => d === p.ticks[p.ticks.length - 1] ? "0.62em" : "0.34em");
    const yr = g.append("g").attr("transform", `translate(${x0 + plotW},0)`)
        .call(d3.axisRight(y).tickValues(p.ticks).tickSizeInner(-5).tickSizeOuter(0).tickFormat(""));
    const xb = g.append("g").attr("transform", `translate(0,${y0 + h})`)
        .call(d3.axisBottom(x).tickValues(xTicks).tickSizeInner(-5).tickSizeOuter(0).tickPadding(20)
            .tickFormat(row === 3 ? d3.format("d") : ""));
    xb.selectAll("text").style("font-size", "16px");
    const xt = g.append("g").attr("transform", `translate(0,${y0})`)
        .call(d3.axisTop(x).tickValues(xTicks).tickSizeInner(-5).tickSizeOuter(0).tickFormat(""));
    [yl, yr, xb, xt].forEach(a => {
        a.select(".domain").remove();
        a.attr("font-family", null);
        a.selectAll(".tick line").attr("stroke", "#222").attr("stroke-width", 1.6);
    });

    // frame
    g.append("rect").attr("x", x0).attr("y", y0).attr("width", plotW).attr("height", h)
        .attr("fill", "none").attr("stroke", "#555").attr("stroke-width", 2.2);
    g.append("path")
        .attr("d", `M${x0},${y0} V${y0 + h} H${x0 + plotW}`)
        .attr("fill", "none").attr("stroke", "#333").attr("stroke-width", 2.2);

    // panel tag
    g.append("text").attr("x", col === 0 ? 8 : 577).attr("y", y0 + h + 5)
        .style("font-size", "16px").text("(" + panelIds[i] + ")");

    if (col === 0) {
        g.append("text")
            .attr("transform", `translate(25,${y0 + h / 2 + 5}) rotate(-90)`)
            .attr("text-anchor", "middle")
            .attr("textLength", 132).attr("lengthAdjust", "spacingAndGlyphs")
            .style("font-size", "16.5px")
            .text("Frequency (Hz)");
    }
    if (row === 3) {
        g.append("text").attr("x", x0 + plotW / 2 - 3).attr("y", y0 + h + 55)
            .attr("text-anchor", "middle").style("font-size", "16.5px")
            .text("Time (s)");
    }
});

// legend inside panel (a)
const leg = svg.append("g");
leg.append("rect").attr("x", 477).attr("y", 14).attr("width", 88).attr("height", 162)
    .attr("fill", "#fff").attr("stroke", "#222").attr("stroke-width", 1.4);
seriesIds.forEach((id, s) => {
    const ly = 30 + s * 26;
    leg.append("line").attr("x1", 486).attr("x2", 528).attr("y1", ly).attr("y2", ly)
        .attr("stroke", lineColors[s]).attr("stroke-width", 2.3);
    const t = leg.append("text").attr("x", 537).attr("y", ly + 5).style("font-size", "20px");
    t.append("tspan").style("font-style", "italic").text("f");
    t.append("tspan").attr("dy", 5).attr("dx", 1).style("font-size", "14px").text(id);
});

// serif face everywhere, as in the source figure
svg.selectAll("text").style("font-family", serif).attr("fill", "#222");
</script>
</body>
</html>
